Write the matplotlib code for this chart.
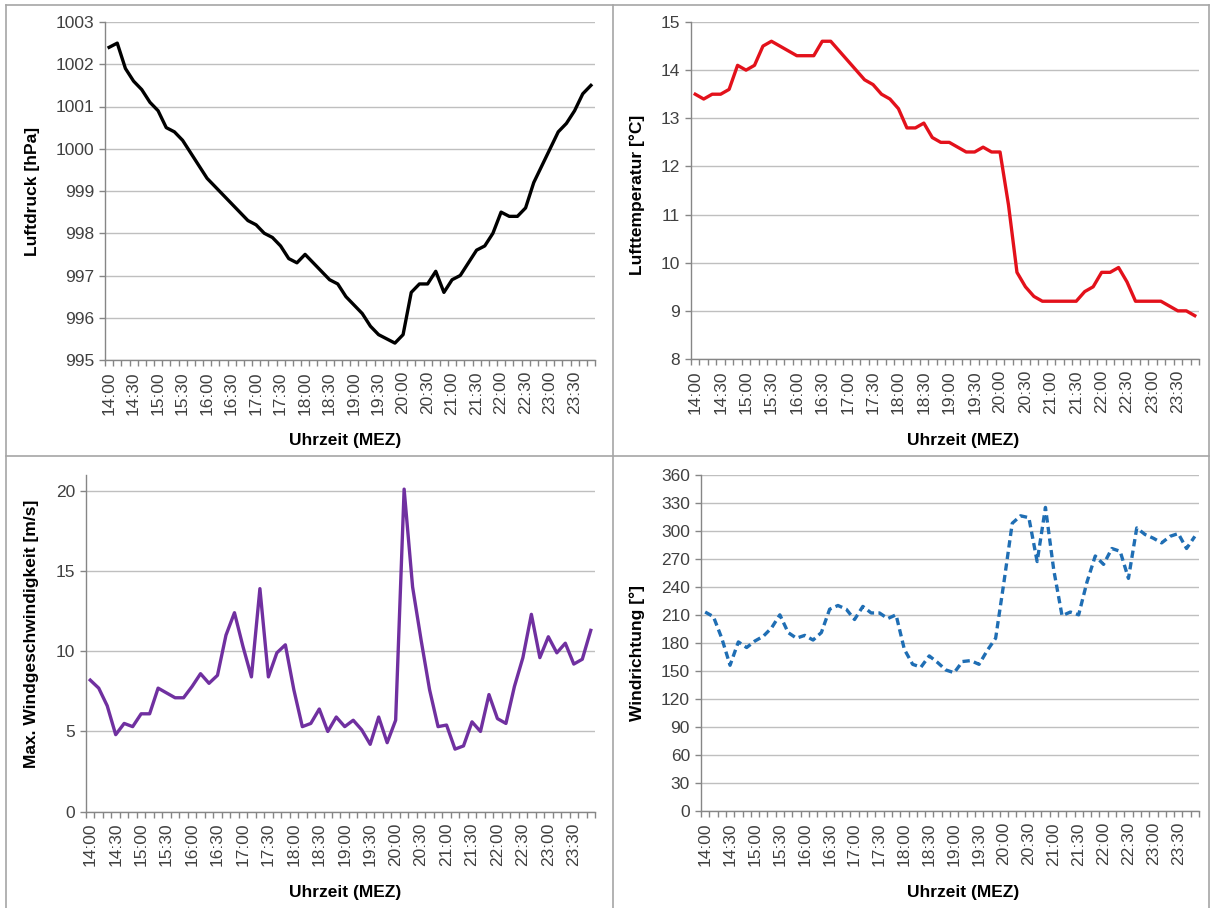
import matplotlib
matplotlib.use("Agg")
import matplotlib.pyplot as plt
from matplotlib.lines import Line2D
import numpy as np

plt.rcParams['font.family'] = ['Liberation Sans', 'DejaVu Sans']

# ---- data (10-minute values, 14:00 .. 23:50) ----
times = [f"{h:02d}:{m:02d}" for h in range(14, 24) for m in range(0, 60, 10)]

luftdruck = [1002.4, 1002.5, 1001.9, 1001.6, 1001.4, 1001.1, 1000.9, 1000.5, 1000.4, 1000.2,
             999.9, 999.6, 999.3, 999.1, 998.9, 998.7, 998.5, 998.3, 998.2, 998.0,
             997.9, 997.7, 997.4, 997.3, 997.5, 997.3, 997.1, 996.9, 996.8, 996.5,
             996.3, 996.1, 995.8, 995.6, 995.5, 995.4, 995.6, 996.6, 996.8, 996.8,
             997.1, 996.6, 996.9, 997.0, 997.3, 997.6, 997.7, 998.0, 998.5, 998.4,
             998.4, 998.6, 999.2, 999.6, 1000.0, 1000.4, 1000.6, 1000.9, 1001.3, 1001.5]

temperatur = [13.5, 13.4, 13.5, 13.5, 13.6, 14.1, 14.0, 14.1, 14.5, 14.6,
              14.5, 14.4, 14.3, 14.3, 14.3, 14.6, 14.6, 14.4, 14.2, 14.0,
              13.8, 13.7, 13.5, 13.4, 13.2, 12.8, 12.8, 12.9, 12.6, 12.5,
              12.5, 12.4, 12.3, 12.3, 12.4, 12.3, 12.3, 11.2, 9.8, 9.5,
              9.3, 9.2, 9.2, 9.2, 9.2, 9.2, 9.4, 9.5, 9.8, 9.8,
              9.9, 9.6, 9.2, 9.2, 9.2, 9.2, 9.1, 9.0, 9.0, 8.9]

windgeschw = [8.2, 7.7, 6.6, 4.8, 5.5, 5.3, 6.1, 6.1, 7.7, 7.4,
              7.1, 7.1, 7.8, 8.6, 8.0, 8.5, 11.0, 12.4, 10.3, 8.4,
              13.9, 8.4, 9.9, 10.4, 7.6, 5.3, 5.5, 6.4, 5.0, 5.9,
              5.3, 5.7, 5.1, 4.2, 5.9, 4.3, 5.7, 20.1, 14.0, 10.7,
              7.6, 5.3, 5.4, 3.9, 4.1, 5.6, 5.0, 7.3, 5.8, 5.5,
              7.8, 9.6, 12.3, 9.6, 10.9, 9.9, 10.5, 9.2, 9.5, 11.3]

windrichtung = [213, 208, 185, 156, 181, 175, 182, 187, 196, 210,
                191, 185, 188, 183, 191, 216, 220, 216, 205, 219,
                212, 212, 206, 210, 173, 157, 154, 166, 159, 151,
                148, 160, 161, 157, 172, 185, 245, 308, 316, 314,
                267, 325, 258, 209, 213, 210, 245, 273, 264, 281,
                278, 249, 303, 296, 292, 287, 294, 297, 281, 294]

W, H = 1214, 908
fig = plt.figure(figsize=(W / 100, H / 100), dpi=100)
fig.patch.set_facecolor('white')

def rect(l, r, t, b):
    return [l / W, 1 - b / H, (r - l) / W, (b - t) / H]

tick_color = '#404040'
grid_color = '#bfbfbf'
axis_color = '#868686'
TICK_FS = 12.5
TITLE_FS = 12.5

def style(ax, data, color, ylim, yticks, ls='-'):
    x = np.arange(len(data))
    ax.plot(x, data, color=color, lw=2.4, ls=ls, solid_joinstyle='round',
            dash_capstyle='butt', dashes=(2.2, 1.3) if ls == '--' else (None, None))
    ax.set_xlim(-0.5, len(data) - 0.5)
    ax.set_ylim(*ylim)
    ax.set_yticks(yticks)
    ax.set_yticklabels([str(v) for v in yticks], fontsize=TICK_FS, color=tick_color)
    ax.yaxis.grid(True, color=grid_color, lw=1.0)
    ax.set_axisbelow(True)
    for s in ['top', 'right']:
        ax.spines[s].set_visible(False)
    for s in ['left', 'bottom']:
        ax.spines[s].set_color(axis_color)
        ax.spines[s].set_linewidth(1.0)
    ax.tick_params(axis='y', length=4, width=1, color=axis_color, pad=4)
    major = list(range(0, len(data), 3))
    ax.set_xticks(major)
    ax.set_xticklabels([times[i] for i in major], rotation=90, fontsize=TICK_FS,
                       color=tick_color)
    ax.set_xticks(np.arange(-0.5, len(data), 1), minor=True)
    ax.tick_params(axis='x', which='major', length=0, pad=8)
    ax.tick_params(axis='x', which='minor', length=4, width=1, color=axis_color)

ax1 = fig.add_axes(rect(105, 595, 22, 360))
style(ax1, luftdruck, 'black', (995, 1003), list(range(995, 1004)))
ax2 = fig.add_axes(rect(691, 1199, 22, 359))
style(ax2, temperatur, '#e3111b', (8, 15), list(range(8, 16)))
ax3 = fig.add_axes(rect(86, 595, 474.7, 811.7))
style(ax3, windgeschw, '#7030a0', (0, 21), [0, 5, 10, 15, 20])
ax4 = fig.add_axes(rect(701, 1199, 474.7, 811))
style(ax4, windrichtung, '#1f6eb4', (0, 360), list(range(0, 361, 30)), ls='--')

def ftext(x, y, s, rot=0):
    fig.text(x / W, 1 - y / H, s, rotation=rot, ha='center', va='center',
             fontsize=TITLE_FS, fontweight='bold', color='black')

ftext(33, 191, 'Luftdruck [hPa]', 90)
ftext(637, 195, 'Lufttemperatur [°C]', 90)
ftext(32, 634, 'Max. Windgeschwindigkeit [m/s]', 90)
ftext(637, 653, 'Windrichtung [°]', 90)
ftext(345, 440, 'Uhrzeit (MEZ)')
ftext(963, 440, 'Uhrzeit (MEZ)')
ftext(345, 893, 'Uhrzeit (MEZ)')
ftext(963, 893, 'Uhrzeit (MEZ)')

# panel borders
border = '#a6a6a6'
def fline(x0, y0, x1, y1):
    fig.add_artist(Line2D([x0 / W, x1 / W], [1 - y0 / H, 1 - y1 / H],
                          color=border, lw=1.2, transform=fig.transFigure))
fline(6, 5, 1209, 5)
fline(6, 5, 6, 908)
fline(1209, 5, 1209, 908)
fline(613, 5, 613, 908)
fline(6, 456, 1209, 456)

fig.savefig('out.png', dpi=100, facecolor='white')
